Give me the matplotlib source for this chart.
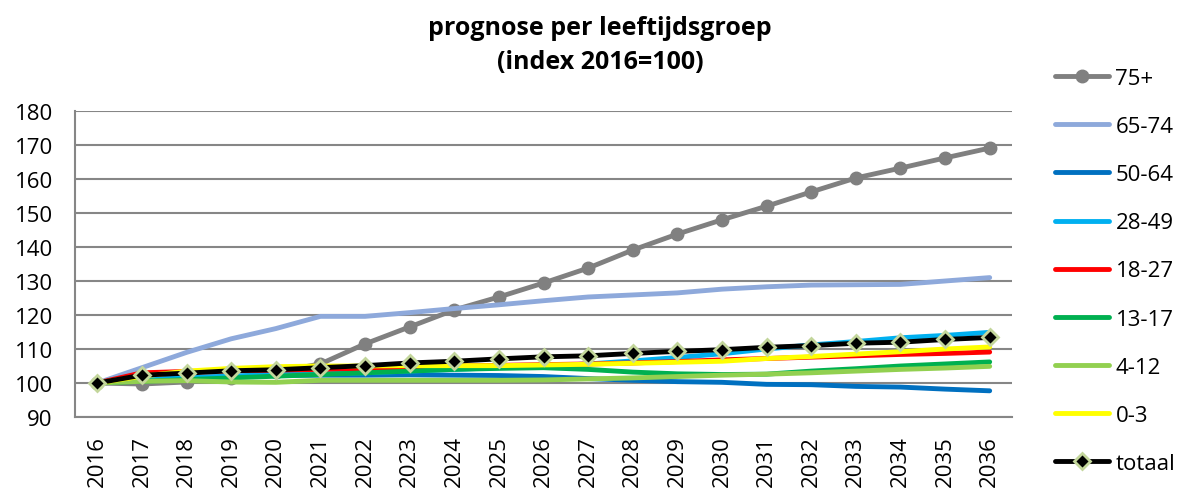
import matplotlib
matplotlib.use("Agg")
import matplotlib.pyplot as plt

years = [str(y) for y in range(2016, 2037)]

s_75plus = [100, 99.7, 100.3, 101.5, 103.2, 105.6, 111.5, 116.5, 121.5, 125.3, 129.4, 133.8, 139.1, 143.8, 148.0, 152.0, 156.2, 160.3, 163.2, 166.2, 169.1]
s_65_74 = [100, 104.5, 109.0, 113.0, 116.0, 119.6, 119.6, 120.7, 121.9, 123.0, 124.2, 125.3, 125.9, 126.5, 127.6, 128.3, 128.8, 128.9, 129.0, 130.0, 131.0]
s_50_64 = [100, 101.0, 101.5, 102.0, 102.2, 102.3, 102.3, 102.4, 102.3, 102.2, 101.9, 101.3, 100.8, 100.4, 100.2, 99.6, 99.5, 99.0, 98.8, 98.2, 97.7]
s_28_49 = [100, 101.0, 101.5, 102.0, 102.5, 102.7, 103.0, 103.5, 104.0, 104.5, 105.0, 105.6, 106.5, 107.5, 108.6, 110.0, 111.2, 112.2, 113.3, 114.0, 114.9]
s_18_27 = [100, 103.0, 103.4, 103.6, 103.8, 104.0, 104.3, 104.5, 105.0, 105.2, 105.4, 105.6, 105.9, 106.3, 106.8, 107.2, 107.6, 108.0, 108.4, 108.7, 109.1]
s_13_17 = [100, 100.5, 101.0, 101.5, 102.0, 102.5, 103.0, 103.5, 104.0, 104.3, 104.5, 104.0, 103.2, 102.7, 102.5, 102.6, 103.5, 104.2, 105.0, 105.6, 106.2]
s_4_12 = [100, 100.5, 100.7, 100.3, 100.2, 100.8, 100.8, 100.8, 100.8, 100.8, 100.9, 101.2, 101.5, 101.9, 102.3, 102.6, 103.0, 103.5, 104.0, 104.4, 104.9]
s_0_3 = [100, 102.0, 103.5, 104.3, 104.8, 105.0, 105.0, 105.1, 105.1, 105.1, 105.3, 105.5, 105.8, 106.1, 106.4, 107.2, 107.8, 108.5, 109.2, 110.0, 110.6]
s_totaal = [100, 102.3, 102.9, 103.6, 103.9, 104.5, 105.1, 105.9, 106.4, 107.1, 107.7, 108.0, 108.7, 109.3, 109.8, 110.5, 111.0, 111.7, 112.0, 112.8, 113.4]

labels = ["75+", "65-74", "50-64", "28-49", "18-27", "13-17", "4-12", "0-3", "totaal"]
series = [s_75plus, s_65_74, s_50_64, s_28_49, s_18_27, s_13_17, s_4_12, s_0_3, s_totaal]
colors = ["#808080", "#8EA9DB", "#0070C0", "#00B0F0", "#FF0000", "#00B050", "#92D050", "#FFFF00", "#000000"]

plt.rcParams['font.family'] = ['Open Sans', 'DejaVu Sans']

fig = plt.figure(figsize=(11.84, 4.89), dpi=100)
ax = fig.add_axes([75/1184, 1-418/489, (1012-75)/1184, (418-112)/489])

x = list(range(len(years)))
for i, (lab, s, c) in enumerate(zip(labels, series, colors)):
    if lab == "75+":
        ax.plot(x, s, color=c, lw=3.5, marker='o', markersize=9, label=lab, zorder=3, solid_capstyle='round')
    elif lab == "totaal":
        ax.plot(x, s, color=c, lw=3.5, marker='D', markersize=8, markerfacecolor='black',
                markeredgecolor='#C3D69B', markeredgewidth=2, label=lab, zorder=10, solid_capstyle='round')
    else:
        ax.plot(x, s, color=c, lw=3.5, label=lab, zorder=3 + i, solid_capstyle='round')

ax.set_xlim(-0.5, len(years) - 0.5)
ax.set_ylim(90, 180)
ax.set_yticks(range(90, 181, 10))
ax.set_xticks(x)
ax.set_xticklabels(years, rotation=90)
ax.tick_params(axis='both', labelsize=16, length=0)
ax.tick_params(axis='y', pad=16)
ax.tick_params(axis='x', pad=13)
ax.yaxis.grid(True, color='#868686', lw=1.5)
ax.set_axisbelow(True)
for sp in ['top', 'right']:
    ax.spines[sp].set_visible(False)
for sp in ['left', 'bottom']:
    ax.spines[sp].set_color('#868686')
    ax.spines[sp].set_linewidth(1.5)

fig.text(0.507, 0.942, "prognose per leeftijdsgroep", ha='center', va='center', fontsize=18, fontweight='bold')
fig.text(0.507, 0.872, "(index 2016=100)", ha='center', va='center', fontsize=18, fontweight='bold')

leg = fig.legend(loc='upper left', bbox_to_anchor=(1055/1184, 1-69/489), frameon=False,
                 fontsize=16, handlelength=2.45, labelspacing=1.22, handletextpad=0.27,
                 borderpad=0, borderaxespad=0)

fig.savefig("out.png", dpi=100)
